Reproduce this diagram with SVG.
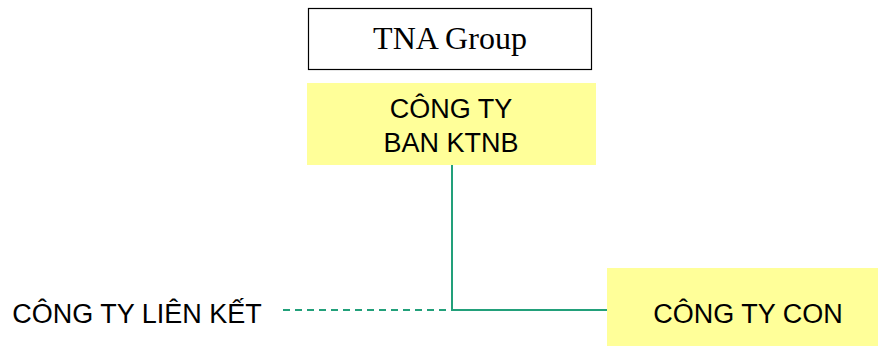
<svg xmlns="http://www.w3.org/2000/svg" width="878" height="346" viewBox="0 0 878 346">
<style>
.sans{font-family:"Liberation Sans",Arial,sans-serif;font-size:27px;fill:#000;text-anchor:middle}
.serif{font-family:"Liberation Serif","Times New Roman",serif;font-size:32px;fill:#000;text-anchor:middle}
.yel{fill:#FFFF99;stroke:none}
.conn{stroke:#22A07A;stroke-width:2;fill:none}
</style>
<rect width="878" height="346" fill="#fff"/>
<g id="connectors">
<line class="conn" x1="452" y1="165" x2="452" y2="310"/>
<line class="conn" x1="452" y1="310" x2="608" y2="310"/>
<line class="conn" x1="283" y1="310" x2="452" y2="310" stroke-dasharray="7 5"/>
</g>
<g id="tna">
<rect x="308.5" y="8.5" width="283" height="61" fill="#fff" stroke="#000" stroke-width="1.2"/>
<text class="serif" x="450" y="49">TNA Group</text>
</g>
<g id="ktnb">
<rect class="yel" x="307" y="83" width="289" height="82"/>
<text class="sans" x="451" y="118">CÔNG TY</text>
<text class="sans" x="451" y="152">BAN KTNB</text>
</g>
<g id="lienket">
<text class="sans" x="137" y="323">CÔNG TY LIÊN KẾT</text>
</g>
<g id="con">
<rect class="yel" x="607" y="268" width="271" height="78"/>
<text class="sans" x="748" y="323">CÔNG TY CON</text>
</g>
</svg>
